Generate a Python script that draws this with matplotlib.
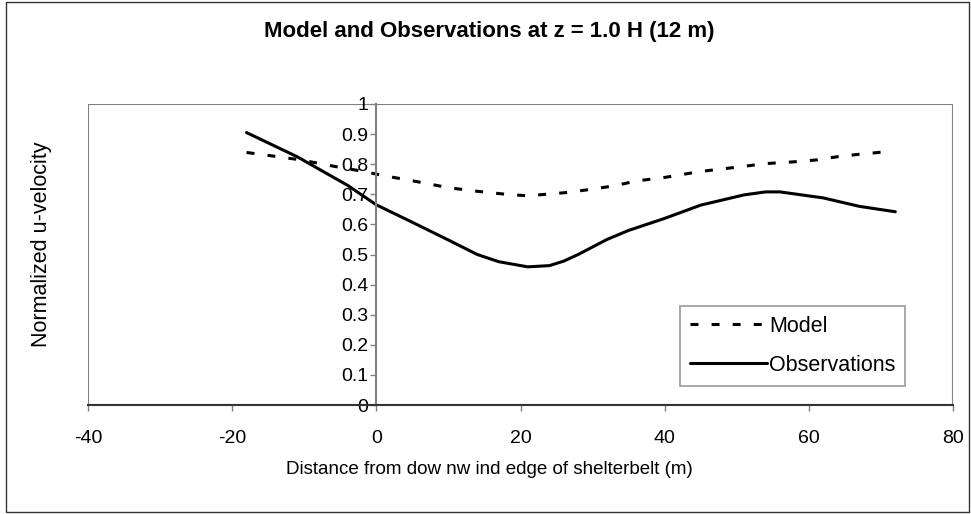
import matplotlib
matplotlib.use("Agg")
import matplotlib.pyplot as plt
from matplotlib.patches import Rectangle

plt.rcParams['font.family'] = ['Liberation Sans', 'DejaVu Sans']
plt.rcParams['axes.unicode_minus'] = False

# distance from downwind edge (m) and normalized u-velocity
obs_x = [-18, -11, -4, 0, 5, 10, 14, 17, 21, 24, 26, 28, 32, 35, 40, 45, 51, 54, 56, 62, 67, 72]
obs_y = [0.905, 0.825, 0.73, 0.665, 0.607, 0.548, 0.50, 0.476, 0.459, 0.463, 0.478, 0.50,
         0.55, 0.58, 0.62, 0.664, 0.698, 0.708, 0.708, 0.688, 0.66, 0.642]

model_x = [-18, -14, -11, -8, -5, -2, 1, 5, 10, 14, 18, 21, 26, 29, 33, 36, 40, 45, 50, 54, 58, 61, 64, 67, 71]
model_y = [0.839, 0.826, 0.816, 0.803, 0.789, 0.777, 0.762, 0.745, 0.722, 0.71, 0.70, 0.695,
           0.705, 0.714, 0.728, 0.744, 0.756, 0.776, 0.79, 0.802, 0.808, 0.814, 0.825, 0.833, 0.842]

xticks = [-40, -20, 0, 20, 40, 60, 80]
yticks = [0, 0.1, 0.2, 0.3, 0.4, 0.5, 0.6, 0.7, 0.8, 0.9, 1]
ytick_labels = ["0", "0.1", "0.2", "0.3", "0.4", "0.5", "0.6", "0.7", "0.8", "0.9", "1"]

W, H = 971, 514
fig = plt.figure(figsize=(W / 100, H / 100), dpi=100)
ax = fig.add_axes([88 / W, 1 - 405 / H, (953 - 88) / W, (405 - 104) / H])

gray = "#808080"
ax.plot(model_x, model_y, color="black", lw=2.2, linestyle=(0, (2.6, 4.3)), label="Model")
ax.plot(obs_x, obs_y, color="black", lw=2.2, label="Observations", solid_capstyle='round')

ax.set_xlim(-40, 80)
ax.set_ylim(0, 1)
ax.set_xticks(xticks)
ax.set_yticks(yticks)
ax.set_yticklabels(ytick_labels)

# y axis crosses at x = 0, frame drawn separately
ax.spines['left'].set_position(('data', 0))
ax.spines['left'].set_color(gray)
ax.spines['left'].set_linewidth(1.5)
ax.spines['top'].set_visible(False)
ax.spines['right'].set_visible(False)
ax.spines['bottom'].set_color("#333333")
ax.spines['bottom'].set_linewidth(1.5)
ax.add_patch(Rectangle((0, 0), 1, 1, transform=ax.transAxes, fill=False,
                       edgecolor=gray, lw=1.5, zorder=0))

ax.tick_params(axis='y', direction='out', length=4, width=1, color=gray, labelsize=14, pad=2)
ax.tick_params(axis='x', direction='out', length=4, width=1, color=gray, labelsize=14, pad=14)

fig.text(42 / W, 1 - 244 / H, "Normalized u-velocity", rotation=90, ha='center', va='center', fontsize=15.5)
fig.text(489 / W, 1 - 470 / H, "Distance from dow nw ind edge of shelterbelt (m)", ha='center', va='center',
         fontsize=13.5)
fig.text(489 / W, 1 - 32 / H, "Model and Observations at z = 1.0 H (12 m)", ha='center', va='center',
         fontsize=16, fontweight='bold')

leg = ax.legend(loc='upper left', bbox_to_anchor=(680 / W, 1 - 306 / H), bbox_transform=fig.transFigure,
                fontsize=15.5, frameon=True, fancybox=False, handlelength=3.6, handletextpad=0.1,
                borderpad=0.45, labelspacing=0.85, borderaxespad=0)
leg.get_frame().set_edgecolor(gray)
leg.get_frame().set_linewidth(1.2)

fig.patches.append(Rectangle((6 / W, 2 / H), 963 / W, 510 / H, transform=fig.transFigure,
                             fill=False, edgecolor="#333333", lw=1))

fig.savefig("out.png", dpi=100)
